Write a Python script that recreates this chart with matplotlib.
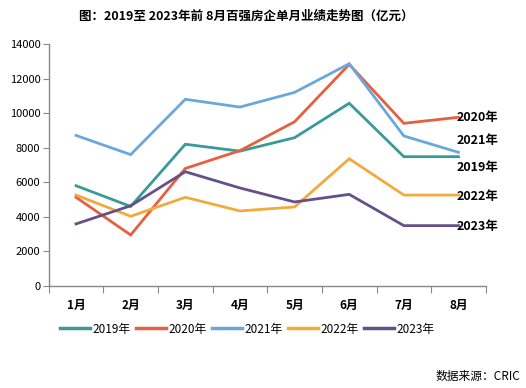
import numpy as np
import matplotlib.pyplot as plt

plt.rcParams['font.family'] = ['Noto Sans CJK SC', 'DejaVu Sans']

months = ['1月', '2月', '3月', '4月', '5月', '6月', '7月', '8月']
years = ['2019年', '2020年', '2021年', '2022年', '2023年']
v2019 = [5800, 4600, 8200, 7800, 8580, 10570, 7480, 7480]
v2020 = [5130, 2950, 6800, 7830, 9500, 12820, 9410, 9760]
v2021 = [8710, 7600, 10800, 10350, 11200, 12860, 8680, 7730]
v2022 = [5260, 4030, 5130, 4340, 4570, 7360, 5260, 5260]
v2023 = [3590, 4640, 6610, 5670, 4860, 5300, 3490, 3490]
series = [v2019, v2020, v2021, v2022, v2023]
colors = ['#3A9A98', '#E4603E', '#6AA8DC', '#F2AA3C', '#65508A']

# 右侧标签的纵向位置
label_y = {'2020年': 9750, '2021年': 8400, '2019年': 6850, '2022年': 5150, '2023年': 3450}

fig = plt.figure(figsize=(5.26, 3.88), dpi=100)
ax = fig.add_axes([0.0926, 0.263, 0.831, 0.6236])

x = np.arange(len(months))
for yr, vals, c in zip(years, series, colors):
    ax.plot(x, vals, color=c, lw=2.0, label=yr, solid_joinstyle='miter')

for yr, yv in label_y.items():
    ax.text(6.96, yv, yr, fontsize=9, fontweight='bold', va='center', ha='left')

ax.set_xlim(-0.5, 7.5)
ax.set_ylim(0, 14000)
ax.set_yticks(np.arange(0, 14001, 2000))
ax.set_xticks(np.arange(-0.5, 7.6, 1))
ax.set_xticklabels([])
ax.set_xticks(x, minor=True)
ax.set_xticklabels(months, minor=True, fontweight='bold', fontsize=8.5)
ax.tick_params(axis='x', which='minor', length=0, pad=9)
ax.tick_params(axis='x', which='major', length=5, color='#888888', direction='out')
ax.tick_params(axis='y', length=4, color='#888888', labelsize=8, pad=2)

for s in ['top', 'right']:
    ax.spines[s].set_visible(False)
for s in ['left', 'bottom']:
    ax.spines[s].set_color('#888888')
    ax.spines[s].set_linewidth(1.0)

fig.text(0.468, 0.958, '图：2019至 2023年前 8月百强房企单月业绩走势图（亿元）',
         fontsize=9, fontweight='bold', ha='center', va='center')

leg = ax.legend(loc='center', bbox_to_anchor=(0.47, 0.152), bbox_transform=fig.transFigure,
                ncol=5, frameon=False, fontsize=8.5, handlelength=2.6, handletextpad=0.2,
                columnspacing=0.4)
for h in leg.get_lines():
    h.set_linewidth(2.5)

fig.text(0.99, 0.03, '数据来源：CRIC', fontsize=8.5, ha='right', va='center')

fig.savefig('out.png', dpi=100)
